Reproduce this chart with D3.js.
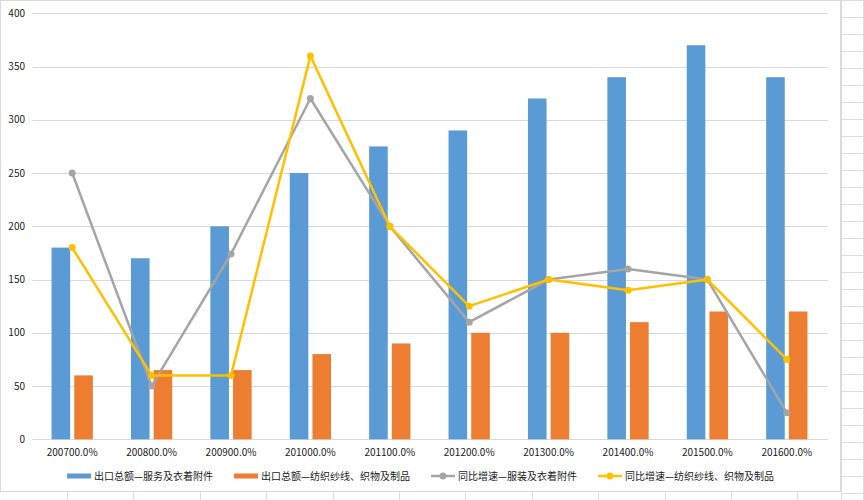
<!DOCTYPE html>
<html>
<head>
<meta charset="utf-8">
<script src="https://cdn.jsdelivr.net/npm/d3@7"></script>
<style>
  body { margin: 0; background: #fff; }
  svg text { font-family: "Noto Sans CJK SC", "Noto Sans", sans-serif; fill: #1a1a1a; }
</style>
</head>
<body>
<svg id="chart" width="864" height="500"></svg>
<script>
// Chart values
const categories = ["200700.0%", "200800.0%", "200900.0%", "201000.0%", "201100.0%",
    "201200.0%", "201300.0%", "201400.0%", "201500.0%", "201600.0%"];
const bar_names = ["出口总额—服务及衣着附件", "出口总额—纺织纱线、织物及制品"];
const line_names = ["同比增速—服装及衣着附件", "同比增速—纺织纱线、织物及制品"];
const export_apparel = [180, 170, 200, 250, 275, 290, 320, 340, 370, 340];
const export_textile = [60, 65, 65, 80, 90, 100, 100, 110, 120, 120];
const growth_apparel = [250, 50, 174, 320, 200, 110, 150, 160, 150, 25];
const growth_textile = [180, 60, 60, 360, 200, 125, 150, 140, 150, 75];
const y_ticks = [0, 50, 100, 150, 200, 250, 300, 350, 400];

// Colours (Office palette)
const bar_colors = ["#5b9bd5", "#ed7d31"];
const line_colors = ["#a5a5a5", "#ffc000"];
const grid_color = "#d9d9d9";

const svg = d3.select("#chart");
const chart_w = 841, chart_h = 492;

// Spreadsheet cells behind the chart object
const sheet = svg.append("g").attr("stroke", "#dcdcdc").attr("stroke-width", 1);
d3.range(0, 500, 17).forEach(y => {
    sheet.append("line").attr("x1", chart_w).attr("x2", 864).attr("y1", y + 0.5).attr("y2", y + 0.5);
});
[chart_w, 863].forEach(x => {
    sheet.append("line").attr("x1", x + 0.5).attr("x2", x + 0.5).attr("y1", 0).attr("y2", 500);
});
d3.range(67, chart_w, 66.4).forEach(x => {
    sheet.append("line").attr("x1", Math.round(x) + 0.5).attr("x2", Math.round(x) + 0.5)
        .attr("y1", chart_h).attr("y2", 500);
});

// Chart area
svg.append("rect")
    .attr("x", 0.5).attr("y", 0.5)
    .attr("width", chart_w - 1).attr("height", chart_h - 1)
    .attr("fill", "#fff")
    .attr("stroke", grid_color);

const x0 = d3.scaleBand()
    .domain(categories)
    .range([32.5, 826.5])
    .paddingInner(0.48)
    .paddingOuter(0.24);

const x1 = d3.scaleBand()
    .domain([0, 1])
    .range([0, x0.bandwidth()])
    .paddingInner(0.18);

const y = d3.scaleLinear()
    .domain([0, 400])
    .range([439.3, 13.3]);

// Gridlines
svg.append("g")
    .selectAll("line")
    .data(y_ticks)
    .enter()
    .append("line")
    .attr("x1", 32.5)
    .attr("x2", 828)
    .attr("y1", d => Math.round(y(d)) + 0.5)
    .attr("y2", d => Math.round(y(d)) + 0.5)
    .attr("stroke", grid_color)
    .attr("stroke-width", 1);

// Y axis labels
svg.append("g")
    .selectAll("text")
    .data(y_ticks)
    .enter()
    .append("text")
    .attr("x", 25)
    .attr("y", d => y(d))
    .attr("dy", "0.35em")
    .attr("text-anchor", "end")
    .attr("font-size", 10)
    .text(d => d);

// X axis labels
svg.append("g")
    .selectAll("text")
    .data(categories)
    .enter()
    .append("text")
    .attr("x", d => x0(d) + x0.bandwidth() / 2)
    .attr("y", 452)
    .attr("dy", "0.35em")
    .attr("text-anchor", "middle")
    .attr("font-size", 10)
    .text(d => d);

// Bars
[export_apparel, export_textile].forEach((series, s) => {
    svg.append("g")
        .selectAll("rect")
        .data(series)
        .enter()
        .append("rect")
        .attr("x", (d, i) => x0(categories[i]) + x1(s))
        .attr("y", d => y(d))
        .attr("width", x1.bandwidth())
        .attr("height", d => y(0) - y(d))
        .attr("fill", bar_colors[s]);
});

// Lines with markers
const cx = i => x0(categories[i]) + x0.bandwidth() / 2;
[growth_apparel, growth_textile].forEach((series, s) => {
    const line = d3.line()
        .x((d, i) => cx(i))
        .y(d => y(d));
    svg.append("path")
        .datum(series)
        .attr("d", line)
        .attr("fill", "none")
        .attr("stroke", line_colors[s])
        .attr("stroke-width", 2.5)
        .attr("stroke-linejoin", "round");
    svg.append("g")
        .selectAll("circle")
        .data(series)
        .enter()
        .append("circle")
        .attr("cx", (d, i) => cx(i))
        .attr("cy", d => y(d))
        .attr("r", 3.5)
        .attr("fill", line_colors[s]);
});

// Legend, centred below the axis
const legend_items = [
    { name: bar_names[0], color: bar_colors[0], kind: "bar" },
    { name: bar_names[1], color: bar_colors[1], kind: "bar" },
    { name: line_names[0], color: line_colors[0], kind: "line" },
    { name: line_names[1], color: line_colors[1], kind: "line" }
];
const legend = svg.append("g");
const legend_y = 476;
let cursor = 0;
legend_items.forEach(item => {
    const g = legend.append("g").attr("transform", `translate(${cursor},0)`);
    if (item.kind === "bar") {
        g.append("rect")
            .attr("x", 0).attr("y", legend_y - 2.5)
            .attr("width", 24).attr("height", 5)
            .attr("fill", item.color);
    } else {
        g.append("line")
            .attr("x1", 0).attr("x2", 24)
            .attr("y1", legend_y).attr("y2", legend_y)
            .attr("stroke", item.color).attr("stroke-width", 2.5);
        g.append("circle")
            .attr("cx", 12).attr("cy", legend_y).attr("r", 3.5)
            .attr("fill", item.color);
    }
    const label = g.append("text")
        .attr("x", 27)
        .attr("y", legend_y)
        .attr("dy", "0.35em")
        .attr("font-size", 10)
        .text(item.name);
    cursor += 27 + label.node().getComputedTextLength() + 21;
});
const legend_w = cursor - 21;
legend.attr("transform", `translate(${(chart_w - legend_w) / 2},0)`);
</script>
</body>
</html>
